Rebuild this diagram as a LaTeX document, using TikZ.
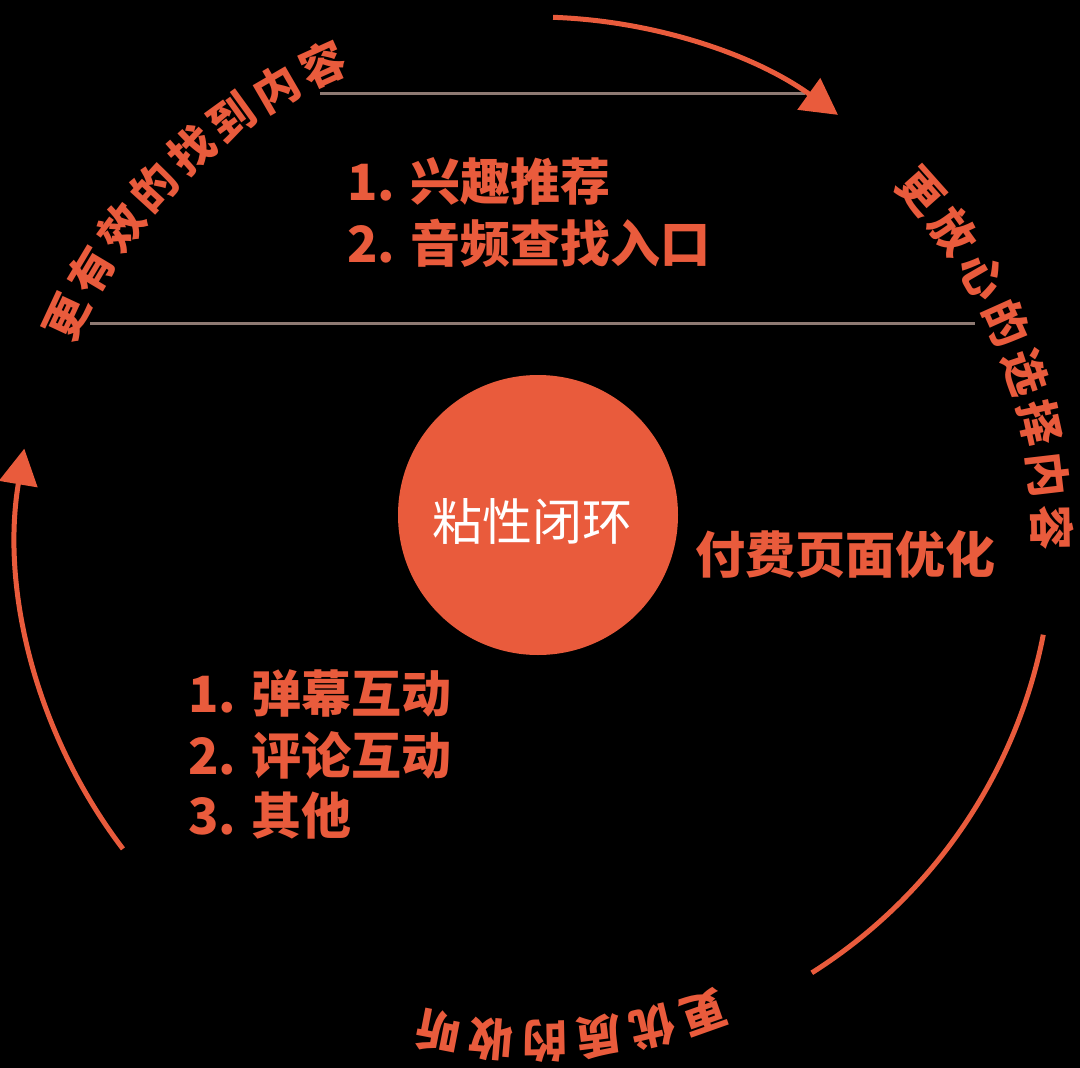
\documentclass[tikz,border=0pt]{standalone}
\usepackage{fontspec}
\setmainfont{Noto Sans CJK SC}
\usepackage{tikz}
\usetikzlibrary{positioning, arrows.meta, calc}

\definecolor{loopOrange}{HTML}{E95B3C}
\definecolor{ruleGray}{HTML}{8E7A73}

\newcommand{\ringtext}[5]{%
    % #1 name, #2 first angle, #3 angle step, #4 radius, #5 characters
    \foreach \ch [count=\k from 0] in {#5} {
        \pgfmathsetmacro{\ang}{#2 - \k*#3}
        \node[ring_text, rotate=\ang-90] (#1-\k) at ($(ring)+(\ang:#4)$) {\ch};
    }
}

\begin{document}
\begin{tikzpicture}[
        x=1pt, y=1pt,
        arrow_style/.style={-{Triangle[length=36pt, width=38pt]}, line width=5pt, draw=loopOrange},
        arc_style/.style={line width=5pt, draw=loopOrange},
        rule_style/.style={line width=3pt, draw=ruleGray},
        ring_text/.style={font=\fontsize{45}{45}\selectfont\bfseries, text=loopOrange, inner sep=0pt},
        list_text/.style={font=\fontsize{50}{62}\selectfont\bfseries, text=loopOrange, inner sep=0pt, anchor=west},
        hub/.style={circle, fill=loopOrange, minimum size=280pt, inner sep=0pt},
        hub_label/.style={font=\fontsize{50}{50}\selectfont, text=white, inner sep=0pt}
    ]

    % =========================================================================
    % 1. CANVAS
    % =========================================================================
    \fill[black] (0,0) rectangle (1080,-1068);
    \useasboundingbox (0,0) rectangle (1080,-1068);

    \coordinate (ring) at (535,-535);

    % faint horizontal rules
    \coordinate (rule1W) at (320,-93);
    \coordinate (rule1E) at (805,-93);
    \coordinate (rule2W) at (90,-323);
    \coordinate (rule2E) at (975,-323);
    \draw[rule_style] (rule1W) -- (rule1E);
    \draw[rule_style] (rule2W) -- (rule2E);

    % =========================================================================
    % 2. RING ARROWS
    % =========================================================================
    \coordinate (topStart) at ($(ring)+(88:518)$);
    \coordinate (rightStart) at ($(ring)+(-11.1:518)$);
    \coordinate (leftStart) at ($(ring)+(217.3:518)$);

    \draw[arrow_style] (topStart) arc[start angle=88, end angle=54.2, radius=518];
    \draw[arc_style] (rightStart) arc[start angle=-11.1, end angle=-57.7, radius=518];
    \draw[arrow_style] (leftStart) arc[start angle=217.3, end angle=170.4, radius=518];

    % =========================================================================
    % 3. RING TEXTS (read clockwise)
    % =========================================================================
    \ringtext{find}{155}{5.81}{516}{更,有,效,的,找,到,内,容}
    \ringtext{pick}{41.7}{5.84}{517}{更,放,心,的,选,择,内,容}
    \ringtext{listen}{-70.5}{6.1}{506}{更,优,质,的,收,听}

    % =========================================================================
    % 4. CENTRE AND LISTS
    % =========================================================================
    \node[hub] (hub) at (538,-515) {};
    \node[hub_label] (hubText) at (532,-521) {粘性闭环};

    \node[list_text] (pay) at (695,-554) {付费页面优化};

    \node[list_text] (find1) at (347,-181) {1. 兴趣推荐};
    \node[list_text] (find2) at (347,-243) {2. 音频查找入口};

    \node[list_text] (talk1) at (188,-693) {1. 弹幕互动};
    \node[list_text] (talk2) at (188,-755) {2. 评论互动};
    \node[list_text] (talk3) at (188,-816) {3. 其他};

\end{tikzpicture}
\end{document}
